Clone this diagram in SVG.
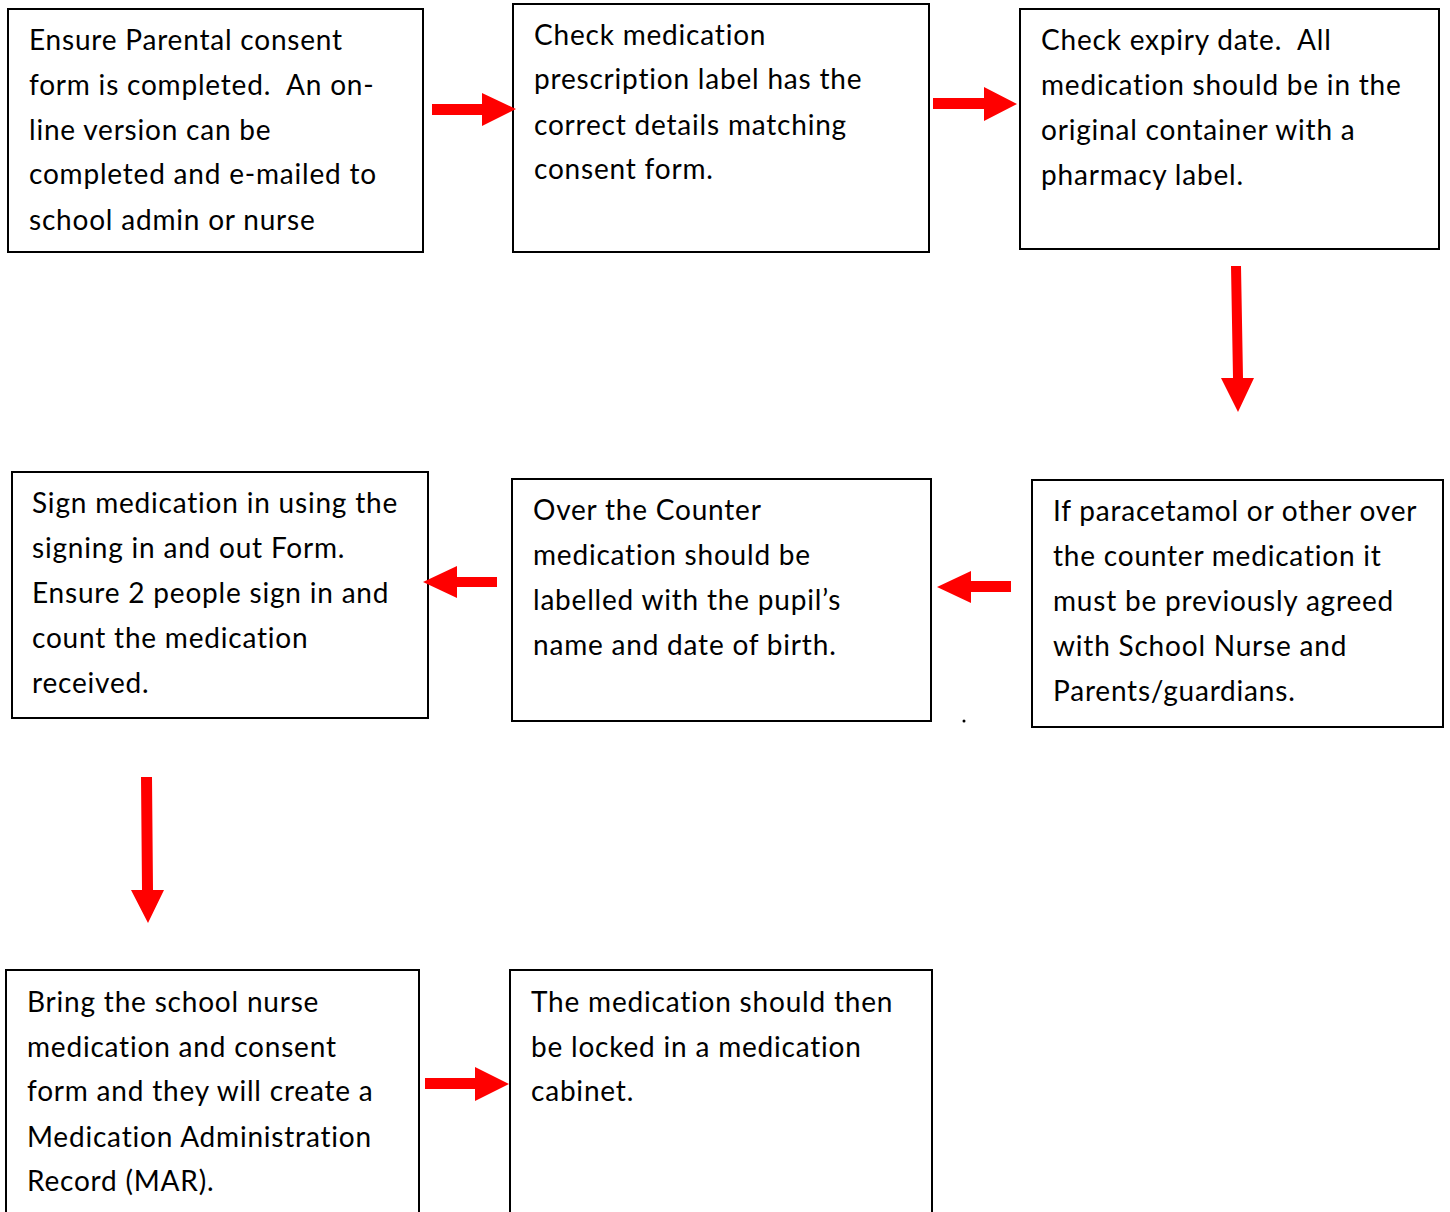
<svg xmlns="http://www.w3.org/2000/svg" width="1450" height="1212" viewBox="0 0 1450 1212">
<style>
.box{fill:#fff;stroke:#000;stroke-width:2}
.t{font-family:Lato,"Open Sans",sans-serif;font-size:28px;letter-spacing:0.8px;fill:#000;white-space:pre}
.arr{fill:#ff0000}
</style>
<rect width="1450" height="1212" fill="#fff"/>
<g id="n1"><rect class="box" x="8" y="9" width="415" height="243"/>
<text class="t" xml:space="preserve"><tspan x="29" y="50">Ensure Parental consent</tspan><tspan x="29" y="95">form is completed.  An on-</tspan><tspan x="29" y="140">line version can be</tspan><tspan x="29" y="184">completed and e-mailed to</tspan><tspan x="29" y="230">school admin or nurse</tspan></text></g>
<g id="n2"><rect class="box" x="513" y="4" width="416" height="248"/>
<text class="t"><tspan x="534" y="45">Check medication</tspan><tspan x="534" y="89">prescription label has the</tspan><tspan x="534" y="135">correct details matching</tspan><tspan x="534" y="179">consent form.</tspan></text></g>
<g id="n3"><rect class="box" x="1020" y="9" width="419" height="240"/>
<text class="t" xml:space="preserve"><tspan x="1041" y="50">Check expiry date.  All</tspan><tspan x="1041" y="95">medication should be in the</tspan><tspan x="1041" y="140">original container with a</tspan><tspan x="1041" y="185">pharmacy label.</tspan></text></g>
<g id="n4"><rect class="box" x="1032" y="480" width="411" height="247"/>
<text class="t"><tspan x="1053" y="521">If paracetamol or other over</tspan><tspan x="1053" y="566">the counter medication it</tspan><tspan x="1053" y="611">must be previously agreed</tspan><tspan x="1053" y="656">with School Nurse and</tspan><tspan x="1053" y="701">Parents/guardians.</tspan></text></g>
<g id="n5"><rect class="box" x="512" y="479" width="419" height="242"/>
<text class="t"><tspan x="533" y="520">Over the Counter</tspan><tspan x="533" y="565">medication should be</tspan><tspan x="533" y="610">labelled with the pupil’s</tspan><tspan x="533" y="655">name and date of birth.</tspan></text></g>
<g id="n6"><rect class="box" x="12" y="472" width="416" height="246"/>
<text class="t"><tspan x="32" y="513">Sign medication in using the</tspan><tspan x="32" y="558">signing in and out Form.</tspan><tspan x="32" y="603">Ensure 2 people sign in and</tspan><tspan x="32" y="648">count the medication</tspan><tspan x="32" y="693">received.</tspan></text></g>
<g id="n7"><rect class="box" x="6" y="970" width="413" height="260"/>
<text class="t"><tspan x="27" y="1012">Bring the school nurse</tspan><tspan x="27" y="1057">medication and consent</tspan><tspan x="27" y="1101">form and they will create a</tspan><tspan x="27" y="1147">Medication Administration</tspan><tspan x="27" y="1191">Record (MAR).</tspan></text></g>
<g id="n8"><rect class="box" x="510" y="970" width="422" height="260"/>
<text class="t"><tspan x="531" y="1012">The medication should then</tspan><tspan x="531" y="1057">be locked in a medication</tspan><tspan x="531" y="1101">cabinet.</tspan></text></g>
<circle cx="964" cy="721" r="1.5" fill="#000"/>
<g id="connectors">
<polygon class="arr" points="432,104 482,104 482,93 516,109 482,126 482,115 432,115"/>
<polygon class="arr" points="933,98 984,98 984,87 1017,104 984,121 984,109 933,109"/>
<polygon class="arr" points="1231,266 1241,266 1243,378 1254,378 1238,412 1221,378 1233,378"/>
<polygon class="arr" points="497,577 457,577 457,566 423,582 457,598 457,587 497,587"/>
<polygon class="arr" points="1011,581 971,581 971,571 937,587 971,603 971,592 1011,592"/>
<polygon class="arr" points="141,777 152,777 153,890 164,890 148,923 131,890 142,890"/>
<polygon class="arr" points="425,1078 475,1078 475,1067 509,1084 475,1101 475,1089 425,1089"/>
</g>
</svg>
